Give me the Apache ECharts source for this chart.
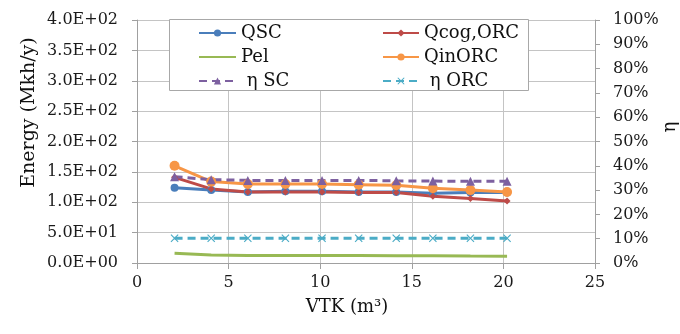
<!DOCTYPE html>
<html>
<head>
<meta charset="utf-8">
<script src="https://cdn.jsdelivr.net/npm/echarts@6/dist/echarts.min.js"></script>
<style>
  html, body { margin: 0; padding: 0; background: #fff; }
  #chart { width: 680px; height: 334px; }
</style>
</head>
<body>
<div id="chart"></div>
<script>
// VTK volume (m3)
const vtk = [2.05, 4.05, 6.05, 8.1, 10.1, 12.1, 14.15, 16.15, 18.2, 20.2];
// energy series (Mkh/y)
const qsc = [124, 120, 117, 118, 118, 117, 117, 115, 116, 116];
const qcogOrc = [141, 122, 117, 117, 117, 116, 116, 110, 106, 102];
const pel = [16, 13, 12.5, 12.5, 12.5, 12.3, 12, 11.8, 11.5, 11.3];
const qinOrc = [160, 134, 130, 130, 130, 129, 128, 123, 120, 117];
// efficiency series (%)
const etaSc = [35.5, 34.3, 34.0, 34.0, 34.0, 34.0, 33.8, 33.7, 33.6, 33.6];
const etaOrc = [10.2, 10.2, 10.2, 10.2, 10.2, 10.2, 10.2, 10.2, 10.2, 10.2];
// tick labels
const energyTicks = ['0.0E+00', '5.0E+01', '1.0E+02', '1.5E+02', '2.0E+02', '2.5E+02', '3.0E+02', '3.5E+02', '4.0E+02'];
const etaTicks = ['0%', '10%', '20%', '30%', '40%', '50%', '60%', '70%', '80%', '90%', '100%'];
const vtkTicks = ['0', '5', '10', '15', '20', '25'];

const FONT = 'DejaVu Serif';
const pairs = (ys) => vtk.map((x, i) => [x, ys[i]]);
const xMark = 'path://M0,1L1,0L5,4L9,0L10,1L6,5L10,9L9,10L5,6L1,10L0,9L4,5Z';

function lineSeries(name, data, color, symbol, size, extra) {
  return Object.assign({
    name,
    type: 'line',
    data: pairs(data),
    symbol,
    symbolSize: size,
    color,
    lineStyle: { width: 3, color },
    itemStyle: { color },
    animation: false,
  }, extra || {});
}

const legendText = { fontFamily: FONT, fontSize: 18, color: '#111', lineHeight: 20 };

const options = {
  textStyle: { fontFamily: FONT },
  // fixed plot box, don't let axis names shrink it
  grid: { left: 137, right: 85, top: 20, bottom: 71, outerBoundsMode: 'none' },
  graphic: [{
    type: 'rect',
    z: 3,
    shape: { x: 169.5, y: 19.5, width: 359, height: 71 },
    style: { fill: '#fff', stroke: '#a8a8a8', lineWidth: 1 },
  }],
  legend: [{
    orient: 'vertical',
    left: 193,
    top: 18,
    itemWidth: 37,
    itemHeight: 9,
    itemGap: 4,
    selectedMode: false,
    textStyle: legendText,
    // Pel has no markers, so hide the legend marker too
    data: ['QSC', { name: 'Pel', itemStyle: { opacity: 0 } }, ' η SC'],
  }, {
    orient: 'vertical',
    left: 377,
    top: 18,
    itemWidth: 36,
    itemHeight: 9,
    itemGap: 4,
    selectedMode: false,
    textStyle: legendText,
    data: ['Qcog,ORC', 'QinORC', ' η ORC'],
  }],
  xAxis: {
    type: 'value',
    min: 0,
    max: 25,
    interval: 5,
    name: 'VTK (m³)',
    nameLocation: 'middle',
    nameGap: 35,
    nameMoveOverlap: false,
    nameTextStyle: { fontFamily: FONT, fontSize: 18, color: '#111', padding: [0, 38, 0, 0] },
    axisLine: { lineStyle: { color: '#a0a0a0' } },
    axisTick: { show: true, length: 6, lineStyle: { color: '#a0a0a0' } },
    axisLabel: {
      margin: 12,
      fontFamily: FONT,
      fontSize: 16,
      color: '#1a1a1a',
      formatter: (v) => vtkTicks[Math.round(v / 5)],
    },
    splitLine: { show: true, lineStyle: { color: '#c4c4c4' } },
  },
  yAxis: [{
    type: 'value',
    min: 0,
    max: 400,
    interval: 50,
    name: 'Energy (Mkh/y)',
    nameLocation: 'middle',
    nameRotate: 90,
    nameGap: 98,
    nameMoveOverlap: false,
    nameTextStyle: { fontFamily: FONT, fontSize: 19, color: '#111', padding: [0, 0, 0, 58] },
    axisLine: { show: true, lineStyle: { color: '#a0a0a0' } },
    axisTick: { show: true, length: 5, lineStyle: { color: '#a0a0a0' } },
    axisLabel: {
      margin: 19,
      fontFamily: FONT,
      fontSize: 16,
      color: '#1a1a1a',
      formatter: (v) => energyTicks[Math.round(v / 50)],
    },
    splitLine: { show: true, lineStyle: { color: '#c4c4c4' } },
  }, {
    type: 'value',
    position: 'right',
    min: 0,
    max: 100,
    interval: 10,
    name: 'η',
    nameLocation: 'middle',
    nameRotate: 90,
    nameGap: 66,
    nameMoveOverlap: false,
    nameTextStyle: { fontFamily: FONT, fontSize: 18, color: '#111', padding: [0, 0, 0, 29] },
    axisLine: { show: true, lineStyle: { color: '#a0a0a0' } },
    axisTick: { show: true, length: 5, lineStyle: { color: '#a0a0a0' } },
    axisLabel: {
      margin: 18,
      fontFamily: FONT,
      fontSize: 16,
      color: '#1a1a1a',
      formatter: (v) => etaTicks[Math.round(v / 10)],
    },
    splitLine: { show: false },
  }],
  series: [
    lineSeries('QSC', qsc, '#4a7ebb', 'circle', 8),
    lineSeries('Qcog,ORC', qcogOrc, '#be4b48', 'diamond', 7),
    lineSeries('Pel', pel, '#98b954', 'none', 0),
    lineSeries('QinORC', qinOrc, '#f79646', 'circle', 10),
    lineSeries(' η SC', etaSc, '#7d60a0', 'triangle', 9, {
      yAxisIndex: 1,
      lineStyle: { width: 3, color: '#7d60a0', type: [8, 5] },
    }),
    lineSeries(' η ORC', etaOrc, '#4bacc6', xMark, 8, {
      yAxisIndex: 1,
      lineStyle: { width: 3, color: '#4bacc6', type: [8, 5] },
    }),
  ],
};

function initChart() {
  const myChart = echarts.init(document.getElementById('chart'));
  myChart.setOption(options);
}

initChart();
</script>
</body>
</html>
